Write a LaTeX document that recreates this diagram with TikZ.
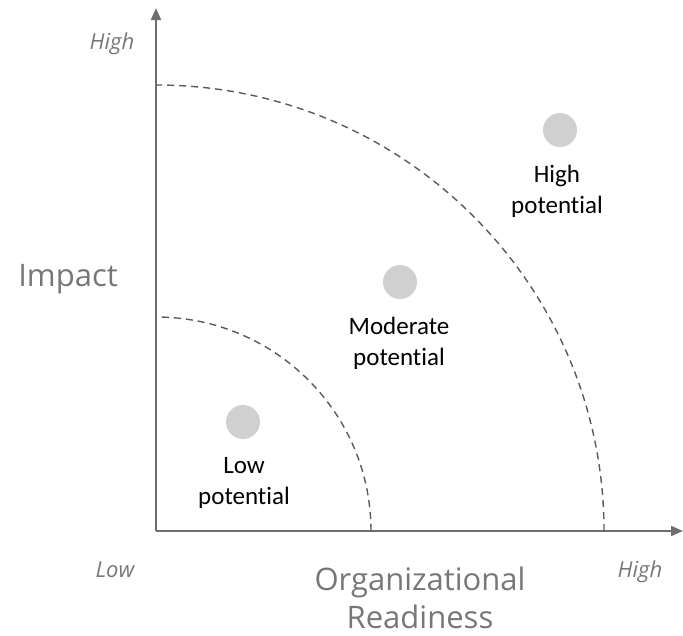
\documentclass[tikz,border=0pt]{standalone}
\usepackage{fontspec}
\setmainfont{Carlito}[Ligatures={NoCommon}]
\newfontfamily\axfont{Open Sans}
\usetikzlibrary{arrows.meta}
\definecolor{axisgray}{HTML}{6E6E6E}
\definecolor{dashgray}{HTML}{5A5A5A}
\definecolor{dotgray}{HTML}{D0D0D0}
\definecolor{txtgray}{HTML}{777777}
\tikzset{
  axisline/.style={draw=axisgray, line width=2pt, -{Triangle[length=12pt,width=10pt]}},
  zoneline/.style={draw=dashgray, line width=1.4pt, dash pattern=on 7pt off 5pt},
  dot/.style={circle, fill=dotgray, minimum size=34pt, inner sep=0pt},
  potlabel/.style={align=center, font=\fontsize{25}{31}\selectfont, text=black, inner sep=0pt},
  endlabel/.style={font=\axfont\itshape\fontsize{22}{26}\selectfont, text=txtgray, inner sep=0pt, anchor=base},
  axtitle/.style={font=\axfont\fontsize{31}{38}\selectfont, text=txtgray, align=center, inner sep=0pt}
}
\begin{document}
\begin{tikzpicture}[x=1pt,y=-1pt]
\useasboundingbox (0,0) rectangle (683,635);
\coordinate (O) at (156,531);
\coordinate (ytop) at (156,8);
\coordinate (xend) at (683,531);
\draw[axisline] (O) -- (ytop);
\draw[axisline] (O) -- (xend);
\coordinate (outerstart) at (604,531);
\coordinate (innerstart) at (371,531);
\draw[zoneline] (outerstart) arc[start angle=0, end angle=-90, x radius=448, y radius=446];
\draw[zoneline] (innerstart) arc[start angle=0, end angle=-90, x radius=215, y radius=214];
\node[dot] (lowdot) at (243,422) {};
\node[dot] (moddot) at (400,282) {};
\node[dot] (highdot) at (560,130) {};
\node[potlabel] (lowlab) at (244,483) {Low\\potential};
\node[potlabel] (modlab) at (399,343) {Moderate\\potential};
\node[potlabel] (highlab) at (557,191) {High\\potential};
\node[endlabel] (ylow) at (115,577) {Low};
\node[endlabel] (xhigh) at (640,577) {High};
\node[endlabel] (yhigh) at (112,49) {High};
\node[axtitle, anchor=base] (impact) at (68,286) {Impact};
\node[axtitle] (readiness) at (420,598) {Organizational\\Readiness};
\end{tikzpicture}
\end{document}
